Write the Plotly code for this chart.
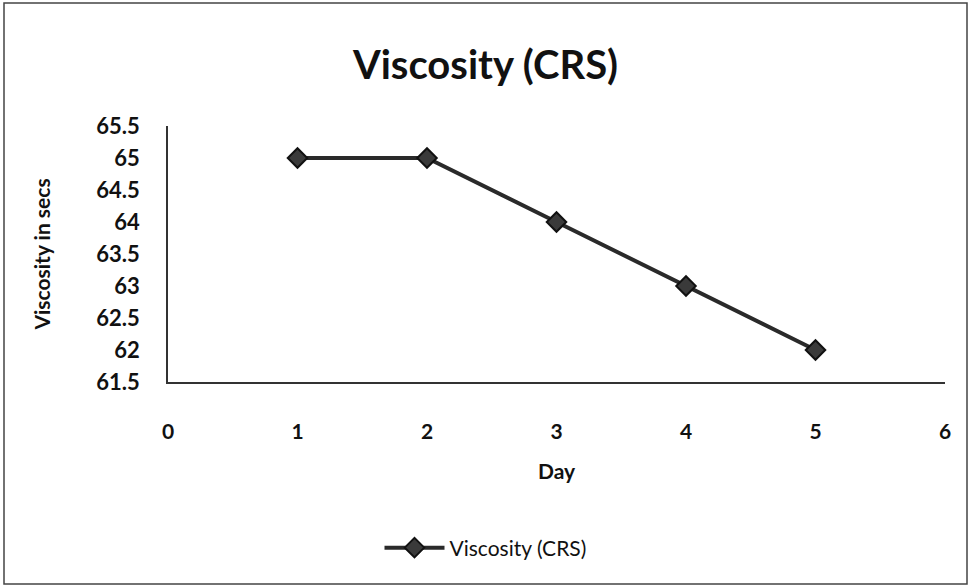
import plotly.graph_objects as go

days = [1, 2, 3, 4, 5]
viscosity = [65.0, 65.0, 64.0, 63.0, 62.0]
series_name = "Viscosity (CRS)"
x_ticks = [0, 1, 2, 3, 4, 5, 6]
y_ticks = [61.5, 62, 62.5, 63, 63.5, 64, 64.5, 65, 65.5]

FONT = "Lato, 'Open Sans', sans-serif"
INK = "#111111"

fig = go.Figure()
fig.add_trace(go.Scatter(
    x=days, y=viscosity, name=series_name, mode="lines+markers",
    line=dict(color="#2a2a2a", width=4),
    marker=dict(symbol="diamond", size=15, color="#3a3a3a",
                line=dict(color=INK, width=2)),
))

L, R, T, B = 168, 26, 126, 205
pw, ph = 971 - L - R, 587 - T - B

fig.update_layout(
    width=971, height=587,
    margin=dict(l=L, r=R, t=T, b=B),
    paper_bgcolor="white", plot_bgcolor="white",
    font=dict(family=FONT, color=INK),
    title=dict(text="Viscosity (CRS)", x=0.5, xanchor="center",
               y=1 - 65 / 587, yanchor="middle",
               font=dict(size=40, family=FONT, color=INK, weight="bold")),
    showlegend=True,
    legend=dict(orientation="h", x=0.5, xanchor="center", xref="container",
                y=(587 - 548) / 587, yref="container", yanchor="middle",
                itemwidth=60,
                font=dict(size=21, family=FONT, color=INK)),
    xaxis=dict(range=[0, 6], tickvals=x_ticks, showgrid=False, zeroline=False,
               showline=True, linecolor="#333333", linewidth=1.5,
               ticks="", ticklabelstandoff=30,
               tickfont=dict(size=21, family=FONT, color=INK, weight="bold"),
               title=dict(text="Day", standoff=22,
                          font=dict(size=21, family=FONT, color=INK, weight="bold"))),
    yaxis=dict(range=[61.5, 65.5], tickvals=y_ticks, showgrid=False, zeroline=False,
               showline=True, linecolor="#333333", linewidth=1.5,
               ticks="", ticklabelstandoff=22,
               tickfont=dict(size=22, family=FONT, color=INK, weight="bold"),
               title=dict(text="<b>Viscosity in secs</b>", standoff=40,
                          font=dict(size=21, family=FONT, color=INK, weight="bold"))),
)

fig.add_shape(type="rect", xref="paper", yref="paper",
              x0=(4 - L) / pw, x1=(967 - L) / pw,
              y0=(587 - B - 584) / ph, y1=(587 - B - 3) / ph,
              line=dict(color="#444444", width=1.5), fillcolor="rgba(0,0,0,0)",
              layer="below")

fig.write_html("out.html", config={"displayModeBar": False},
               post_script="document.body.style.margin='0';document.body.style.overflow='hidden';")
